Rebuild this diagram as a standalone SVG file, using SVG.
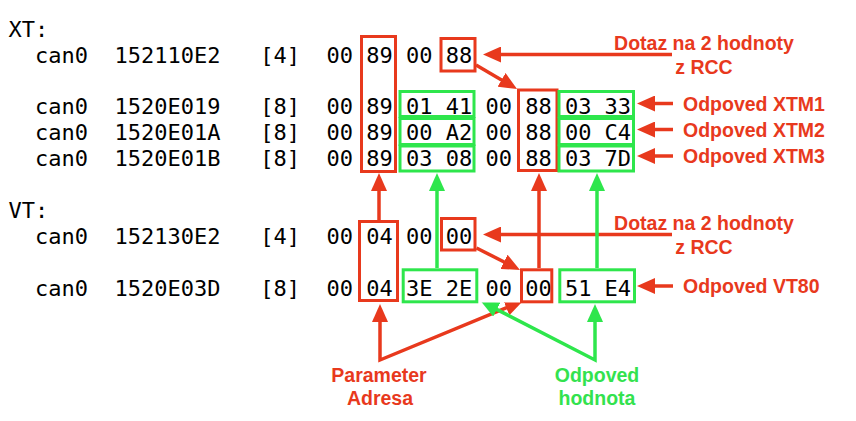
<svg xmlns="http://www.w3.org/2000/svg" width="856" height="421" viewBox="0 0 856 421">
<style>
.mono{font-family:"DejaVu Sans Mono","Liberation Mono",monospace;font-size:22px;fill:#000;white-space:pre}
.lbl{font-family:"Liberation Sans",Arial,sans-serif;font-weight:bold;font-size:19.5px}
.red{fill:#e8391d}
.grn{fill:#33e24e}
.rbox{fill:none;stroke:#e8391d;stroke-width:3}
.gbox{fill:none;stroke:#2ee64c;stroke-width:3}
.ra{fill:none;stroke:#e8391d;stroke-width:3.5;stroke-linejoin:miter}
.ga{fill:none;stroke:#2ee64c;stroke-width:3.5;stroke-linejoin:miter}
</style>
<defs>
<marker id="mr" viewBox="0 0 18 16" refX="3" refY="8" markerWidth="18" markerHeight="16" markerUnits="userSpaceOnUse" orient="auto-start-reverse"><path d="M0,0 L18,8 L0,16 z" fill="#e8391d"/></marker>
<marker id="mg" viewBox="0 0 18 16" refX="3" refY="8" markerWidth="18" markerHeight="16" markerUnits="userSpaceOnUse" orient="auto-start-reverse"><path d="M0,0 L18,8 L0,16 z" fill="#2ee64c"/></marker>
<clipPath id="below"><rect x="0" y="302.5" width="856" height="120"/></clipPath>
</defs>
<rect width="856" height="421" fill="#fff"/>

<g id="connectors">
<path class="ra" d="M672,54.5 L498,54.5" marker-end="url(#mr)"/>
<path class="ra" d="M672,234.5 L498,234.5" marker-end="url(#mr)"/>
<path class="ra" d="M476,65 L504.1,81.4" marker-end="url(#mr)"/>
<path class="ra" d="M476.5,248 L506.6,263.2" marker-end="url(#mr)"/>
<path class="ra" d="M673,103.5 L652,103.5" marker-end="url(#mr)"/>
<path class="ra" d="M673,129.5 L652,129.5" marker-end="url(#mr)"/>
<path class="ra" d="M673,156 L652,156" marker-end="url(#mr)"/>
<path class="ra" d="M673,286 L652,286" marker-end="url(#mr)"/>
<path class="ra" d="M379,220 L379,188" marker-end="url(#mr)"/>
<path class="ga" d="M437,268 L437,188" marker-end="url(#mg)"/>
<path class="ra" d="M539,268 L539,188" marker-end="url(#mr)"/>
<path class="ga" d="M597,268 L597,188" marker-end="url(#mg)"/>
<path class="ra" clip-path="url(#below)" d="M509.1,306.7 L380,360 L380,319" marker-start="url(#mr)" marker-end="url(#mr)"/>
<path class="ga" clip-path="url(#below)" d="M494.2,308.1 L595,360 L595,319" marker-start="url(#mg)" marker-end="url(#mg)"/>
</g>

<g id="dump">
<text class="mono" xml:space="preserve" x="8.6" y="36.5">XT:</text>
<text class="mono" xml:space="preserve" x="8.6" y="62.5">  can0  152110E2   [4]  00 89 00 88</text>
<text class="mono" xml:space="preserve" x="8.6" y="113.5">  can0  1520E019   [8]  00 89 01 41 00 88 03 33</text>
<text class="mono" xml:space="preserve" x="8.6" y="139.5">  can0  1520E01A   [8]  00 89 00 A2 00 88 00 C4</text>
<text class="mono" xml:space="preserve" x="8.6" y="165.5">  can0  1520E01B   [8]  00 89 03 08 00 88 03 7D</text>
<text class="mono" xml:space="preserve" x="8.6" y="217.5">VT:</text>
<text class="mono" xml:space="preserve" x="8.6" y="243.5">  can0  152130E2   [4]  00 04 00 00</text>
<text class="mono" xml:space="preserve" x="8.6" y="295.5">  can0  1520E03D   [8]  00 04 3E 2E 00 00 51 E4</text>
</g>

<g id="box-xt-addr"><rect class="rbox" x="361.5" y="36.5" width="34" height="135"/></g>
<g id="box-xt-query"><rect class="rbox" x="441" y="38.5" width="34" height="32.5"/></g>
<g id="box-xt-val1">
<rect class="gbox" x="400" y="91.5" width="74" height="25"/>
<rect class="gbox" x="400" y="118.5" width="74" height="26"/>
<rect class="gbox" x="400" y="146" width="74" height="25"/>
</g>
<g id="box-xt-param"><rect class="rbox" x="518.5" y="90" width="38.5" height="80.5"/></g>
<g id="box-xt-val2">
<rect class="gbox" x="559" y="91.5" width="74.5" height="25"/>
<rect class="gbox" x="559" y="118.5" width="74.5" height="26"/>
<rect class="gbox" x="559" y="146" width="74.5" height="25"/>
</g>
<g id="box-vt-addr"><rect class="rbox" x="359.5" y="221.5" width="38" height="79"/></g>
<g id="box-vt-query"><rect class="rbox" x="441.5" y="218.5" width="33.5" height="31.5"/></g>
<g id="box-vt-val1"><rect class="gbox" x="403.2" y="269.8" width="73.6" height="32"/></g>
<g id="box-vt-param"><rect class="rbox" x="521.5" y="269.8" width="30.3" height="32"/></g>
<g id="box-vt-val2"><rect class="gbox" x="559.8" y="269.8" width="74.7" height="32"/></g>

<g id="label-dotaz-xt">
<text class="lbl red" x="704" y="50" text-anchor="middle">Dotaz na 2 hodnoty</text>
<text class="lbl red" x="704" y="73.5" text-anchor="middle">z RCC</text>
</g>
<g id="label-xtm1"><text class="lbl red" x="683" y="110.5">Odpoved XTM1</text></g>
<g id="label-xtm2"><text class="lbl red" x="683" y="136.5">Odpoved XTM2</text></g>
<g id="label-xtm3"><text class="lbl red" x="683" y="162.7">Odpoved XTM3</text></g>
<g id="label-dotaz-vt">
<text class="lbl red" x="704" y="230" text-anchor="middle">Dotaz na 2 hodnoty</text>
<text class="lbl red" x="704" y="253.5" text-anchor="middle">z RCC</text>
</g>
<g id="label-vt80"><text class="lbl red" x="683" y="293">Odpoved VT80</text></g>
<g id="label-param">
<text class="lbl red" x="379" y="382" text-anchor="middle">Parameter</text>
<text class="lbl red" x="380" y="405" text-anchor="middle">Adresa</text>
</g>
<g id="label-value">
<text class="lbl grn" x="597" y="382" text-anchor="middle">Odpoved</text>
<text class="lbl grn" x="597" y="405" text-anchor="middle">hodnota</text>
</g>
</svg>
